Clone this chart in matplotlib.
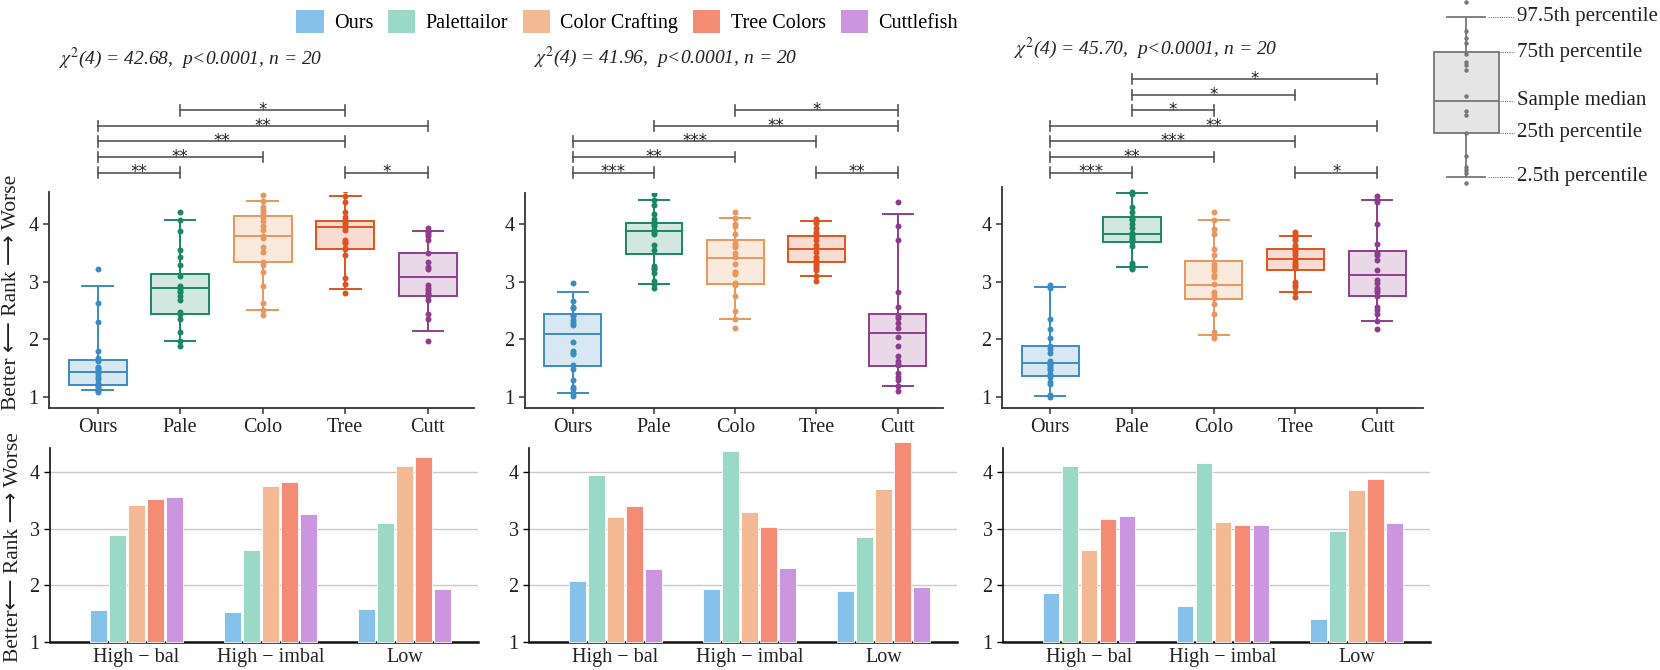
import matplotlib.pyplot as plt
from matplotlib.patches import Patch
from matplotlib.colors import to_rgba
import numpy as np

plt.rcParams['font.family'] = ['Liberation Serif', 'DejaVu Sans']
plt.rcParams['mathtext.fontset'] = 'stix'

W, H = 1660, 670

methods = ['Ours', 'Palettailor', 'Color Crafting', 'Tree Colors', 'Cuttlefish']
short = ['Ours', 'Pale', 'Colo', 'Tree', 'Cutt']
line_cols = ['#3a8cc4', '#1a8763', '#e8975e', '#de5420', '#8e3d8e']
bar_cols = ['#85c1e9', '#9ad9c5', '#f3b994', '#f48c75', '#cc95df']

chi2 = ['42.68', '41.96', '45.70']

# box stats: (whislo, q1, med, q3, whishi) for each method
box1 = [(1.12, 1.21, 1.43, 1.65, 2.93), (1.98, 2.44, 2.89, 3.14, 4.07), (2.51, 3.34, 3.79, 4.15, 4.41),
        (2.88, 3.57, 3.95, 4.06, 4.49), (2.15, 2.76, 3.08, 3.51, 3.89)]
box2 = [(1.07, 1.54, 2.10, 2.44, 2.83), (2.96, 3.49, 3.89, 4.03, 4.42), (2.35, 2.97, 3.41, 3.72, 4.11),
        (3.10, 3.34, 3.58, 3.80, 4.06), (1.20, 1.54, 2.12, 2.45, 4.18)]
box3 = [(1.02, 1.37, 1.60, 1.89, 2.91), (3.26, 3.69, 3.83, 4.12, 4.54), (2.07, 2.71, 2.95, 3.36, 4.08),
        (2.82, 3.21, 3.40, 3.58, 3.80), (2.32, 2.76, 3.12, 3.54, 4.42)]

# individual participant ranks (20 per method)
pts1 = [
    [3.22, 2.64, 2.30, 1.80, 1.67, 1.63, 1.53, 1.50, 1.47, 1.44, 1.40, 1.35, 1.31, 1.24, 1.20, 1.18, 1.14, 1.12, 1.10, 1.09],
    [4.22, 4.07, 3.89, 3.55, 3.43, 3.30, 3.10, 2.93, 2.90, 2.89, 2.85, 2.83, 2.76, 2.69, 2.48, 2.44, 2.35, 2.13, 1.98, 1.89],
    [4.51, 4.41, 4.31, 4.25, 4.19, 4.12, 4.05, 3.97, 3.90, 3.80, 3.76, 3.60, 3.52, 3.35, 3.30, 3.18, 2.93, 2.64, 2.51, 2.42],
    [4.60, 4.49, 4.39, 4.22, 4.13, 4.07, 4.06, 4.02, 3.99, 3.95, 3.91, 3.73, 3.69, 3.67, 3.59, 3.58, 3.47, 3.06, 2.97, 2.81],
    [3.94, 3.89, 3.87, 3.84, 3.79, 3.73, 3.51, 3.35, 3.26, 3.23, 2.95, 2.89, 2.86, 2.81, 2.79, 2.75, 2.69, 2.44, 2.35, 1.97],
]
pts2 = [
    [2.98, 2.66, 2.57, 2.54, 2.43, 2.40, 2.33, 2.29, 2.25, 1.95, 1.80, 1.76, 1.75, 1.55, 1.49, 1.30, 1.18, 1.14, 1.07, 1.01],
    [4.53, 4.42, 4.34, 4.18, 4.09, 4.04, 4.01, 3.97, 3.91, 3.87, 3.84, 3.64, 3.55, 3.27, 3.24, 3.23, 3.15, 3.02, 2.97, 2.90],
    [4.21, 4.11, 4.01, 3.97, 3.84, 3.68, 3.64, 3.61, 3.51, 3.44, 3.31, 3.18, 3.17, 3.14, 2.98, 2.94, 2.75, 2.49, 2.35, 2.20],
    [4.09, 4.06, 4.03, 3.94, 3.86, 3.83, 3.79, 3.73, 3.64, 3.59, 3.52, 3.43, 3.38, 3.35, 3.31, 3.28, 3.24, 3.20, 3.10, 3.02],
    [4.38, 3.97, 3.72, 2.82, 2.57, 2.41, 2.38, 2.29, 2.20, 2.04, 1.88, 1.72, 1.62, 1.58, 1.55, 1.42, 1.35, 1.29, 1.20, 1.10],
]
pts3 = [
    [2.94, 2.90, 2.35, 2.18, 2.02, 1.88, 1.84, 1.77, 1.63, 1.58, 1.55, 1.53, 1.48, 1.47, 1.40, 1.35, 1.27, 1.23, 1.03, 1.00],
    [4.57, 4.53, 4.30, 4.21, 4.13, 4.10, 4.07, 4.01, 3.94, 3.85, 3.82, 3.78, 3.75, 3.72, 3.69, 3.63, 3.33, 3.29, 3.24, 3.23],
    [4.22, 4.08, 3.92, 3.84, 3.58, 3.46, 3.31, 3.26, 3.20, 3.12, 3.08, 2.97, 2.82, 2.77, 2.72, 2.61, 2.44, 2.13, 2.07, 2.02],
    [3.86, 3.83, 3.80, 3.75, 3.72, 3.65, 3.61, 3.55, 3.52, 3.46, 3.40, 3.35, 3.31, 3.28, 3.26, 2.99, 2.95, 2.91, 2.82, 2.74],
    [4.49, 4.42, 4.39, 4.01, 3.66, 3.51, 3.46, 3.38, 3.20, 3.03, 2.98, 2.90, 2.86, 2.82, 2.75, 2.57, 2.52, 2.44, 2.32, 2.18],
]

# pairwise comparisons: (from, to, label, stacking level)
sig1 = [(1, 3, '*', 4), (0, 4, '**', 3), (0, 3, '**', 2), (0, 2, '**', 1), (0, 1, '**', 0), (3, 4, '*', 0)]
sig2 = [(2, 4, '*', 4), (1, 4, '**', 3), (0, 3, '***', 2), (0, 2, '**', 1), (0, 1, '***', 0), (3, 4, '**', 0)]
sig3 = [(1, 4, '*', 6), (1, 3, '*', 5), (1, 2, '*', 4), (0, 4, '**', 3), (0, 3, '***', 2), (0, 2, '**', 1),
        (0, 1, '***', 0), (3, 4, '*', 0)]

conditions = ['High \u2212 bal', 'High \u2212 imbal', 'Low']
# mean rank per condition, one list per method
bars1 = [[1.56, 1.53, 1.59], [2.89, 2.63, 3.09], [3.42, 3.75, 4.10], [3.52, 3.82, 4.27], [3.56, 3.25, 1.93]]
bars2 = [[2.07, 1.93, 1.90], [3.95, 4.36, 2.85], [3.20, 3.30, 3.70], [3.39, 3.02, 4.53], [2.28, 2.30, 1.97]]
bars3 = [[1.87, 1.63, 1.41], [4.11, 4.15, 2.95], [2.62, 3.11, 3.68], [3.16, 3.06, 3.88], [3.23, 3.06, 3.10]]

# explanatory key box
key_stats = dict(whislo=0.58, q1=1.68, med=2.48, q3=3.70, whishi=4.58)
key_pts = [4.95, 4.22, 4.05, 3.92, 3.65, 3.45, 3.38, 3.25, 2.6, 2.22, 2.12, 1.68, 1.1, 0.82, 0.75, 0.68, 0.43]
key_labels = ['97.5th percentile', '75th percentile', 'Sample median', '25th percentile', '2.5th percentile']

fig = plt.figure(figsize=(W / 100, H / 100), dpi=100)


def px_axes(x0, x1, y0, y1):
    return fig.add_axes([x0 / W, 1 - y1 / H, (x1 - x0) / W, (y1 - y0) / H])


TXT = '#222222'
AX = '#333333'

# ---- top row: box plots ----
top_x = [(49, 474), (525, 943), (1002, 1423)]
top_ymax = [4.56, 4.54, 4.65]
unit = 57.57
ybot = 0.81
for p, (boxes, pts, sig) in enumerate([(box1, pts1, sig1), (box2, pts2, sig2), (box3, pts3, sig3)]):
    y0 = 408 - (top_ymax[p] - ybot) * unit
    ax = px_axes(top_x[p][0], top_x[p][1], y0, 408)
    for i, st in enumerate(boxes):
        col = line_cols[i]
        fill = to_rgba(col, 0.2)
        d = dict(whislo=st[0], q1=st[1], med=st[2], q3=st[3], whishi=st[4], fliers=[])
        ax.bxp([d], positions=[i], widths=0.7, capwidths=0.37, patch_artist=True, showfliers=False,
               boxprops=dict(facecolor=fill, edgecolor=col, lw=1.4),
               whiskerprops=dict(color=col, lw=1.4), capprops=dict(color=col, lw=1.4),
               medianprops=dict(color=col, lw=1.4))
        ax.plot(np.full(len(pts[i]), i), pts[i], 'o', color=col, ms=4.3, mew=0, zorder=4)
    ax.set_xlim(-0.59, 4.56)
    ax.set_ylim(ybot, top_ymax[p])
    ax.set_xticks(range(5))
    ax.set_xticklabels(short)
    ax.set_yticks([1, 2, 3, 4])
    ax.tick_params(labelsize=14.5, colors=AX, labelcolor=TXT, length=4, width=1.1)
    for s in ['top', 'right']:
        ax.spines[s].set_visible(False)
    for s in ['left', 'bottom']:
        ax.spines[s].set_color(AX)
        ax.spines[s].set_linewidth(1.3)

    # significance brackets
    step = 0.27
    tick = 0.09
    for a, b, lab, lev in sig:
        y = 4.90 + step * lev
        ax.plot([a, a, b, b], [y - tick, y, y, y - tick], color='#555555', lw=1.2, clip_on=False)
        ax.plot([a, a], [y, y + tick], color='#555555', lw=1.2, clip_on=False)
        ax.plot([b, b], [y, y + tick], color='#555555', lw=1.2, clip_on=False)
        ax.text((a + b) / 2, y - 0.085, lab, ha='center', va='baseline', fontsize=12,
                family='DejaVu Sans', color=TXT, clip_on=False)

# chi-square annotations
stat_pos = [(58, 58), (533, 57), (1013, 48)]
for p, (sx, sy) in enumerate(stat_pos):
    fig.text(sx / W, 1 - sy / H, r'$\chi^2$(4) = ' + chi2[p] + ',  p<0.0001, n = 20',
             fontsize=14, style='italic', ha='left', va='center', color=TXT)

# ---- bottom row: bar charts ----
bot_x = [(50, 478), (529, 957), (1003, 1430)]
xg = np.arange(len(conditions))
for p, bars in enumerate([bars1, bars2, bars3]):
    ax = px_axes(bot_x[p][0], bot_x[p][1], 448, 642)
    for i in range(5):
        ax.bar(xg + (i - 2) * 0.142, np.array(bars[i]) - 1, bottom=1, width=0.123, color=bar_cols[i],
               edgecolor='white', linewidth=0.6, zorder=3, clip_on=False)
    ax.set_xlim(-0.645, 2.55)
    ax.set_ylim(1, 4.42)
    ax.set_yticks([1, 2, 3, 4])
    ax.set_xticks(xg)
    ax.set_xticklabels(conditions)
    ax.yaxis.grid(True, color='#c8c8c8', lw=1)
    ax.set_axisbelow(True)
    ax.tick_params(axis='x', length=0, labelsize=14.5, labelcolor=TXT, pad=4)
    ax.tick_params(axis='y', length=4, width=1, labelsize=14.5, labelcolor=TXT)
    for s in ['top', 'right']:
        ax.spines[s].set_visible(False)
    ax.spines['left'].set_color('#111111')
    ax.spines['left'].set_linewidth(1.2)
    ax.spines['bottom'].set_color('#111111')
    ax.spines['bottom'].set_linewidth(1.8)

# y axis titles
fig.text(12 / W, 1 - 292 / H, 'Better \u27f5 Rank \u27f6 Worse', rotation=90, ha='center', va='center',
         fontsize=15.5, color=TXT)
fig.text(14 / W, 1 - 547 / H, 'Better\u27f5 Rank \u27f6 Worse', rotation=90, ha='center', va='center',
         fontsize=15.5, color=TXT)

# legend
handles = [Patch(facecolor=c, edgecolor='none') for c in bar_cols]
fig.legend(handles, methods, loc='upper center', bbox_to_anchor=(627 / W, 1.0), ncol=5, frameon=False,
           fontsize=14.5, handlelength=1.35, handleheight=1.35, columnspacing=0.75, handletextpad=0.5,
           borderaxespad=0.1)

# ---- key explaining the box plot ----
kax = px_axes(1416, 1516, 0, 200)
kax.set_xlim(-1, 1)
kax.set_ylim(0, 5)
kax.axis('off')
kd = dict(key_stats, fliers=[])
kax.bxp([kd], positions=[0], widths=1.3, capwidths=0.76, patch_artist=True, showfliers=False,
        boxprops=dict(facecolor='#e5e5e5', edgecolor='#777777', lw=1.3),
        whiskerprops=dict(color='#777777', lw=1.3), capprops=dict(color='#777777', lw=1.3),
        medianprops=dict(color='#777777', lw=1.3))
kax.plot(np.zeros(len(key_pts)), key_pts, 'o', color='#777777', ms=3.2, mew=0, zorder=4, clip_on=False)
key_vals = [key_stats['whishi'], key_stats['q3'], key_stats['med'], key_stats['q1'], key_stats['whislo']]
for v, lab in zip(key_vals, key_labels):
    start = 0.44 if lab.startswith(('97', '2.5')) else 0.68
    kax.plot([start, 0.95], [v, v], color='#777777', lw=0.8, ls=(0, (1, 1)), clip_on=False)
    kax.text(1.02, v, lab, ha='left', va='center', fontsize=15, color=TXT, clip_on=False)

fig.savefig('out.png', dpi=100)
